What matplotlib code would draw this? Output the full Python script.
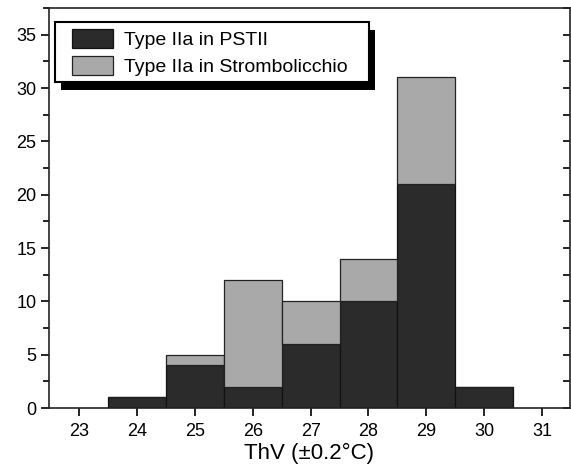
import matplotlib.pyplot as plt
from matplotlib.patches import Rectangle
from matplotlib.ticker import MultipleLocator

plt.rcParams['font.family'] = ['Liberation Sans', 'DejaVu Sans']

# histogram bins (ThV, deg C)
temps = [24, 25, 26, 27, 28, 29, 30]
# counts per bin
pstii = [1, 4, 2, 6, 10, 21, 2]
strombolicchio = [0, 1, 10, 4, 4, 10, 0]

dark = '#2b2b2b'
light = '#a9a9a9'

fig = plt.figure(figsize=(5.71, 4.73), dpi=100)
ax = fig.add_axes([0.0858, 0.1374, 0.9122, 0.8456])

ax.bar(temps, pstii, width=1.0, color=dark, edgecolor='#111111', linewidth=0.9,
       label='Type IIa in PSTII')
ax.bar(temps, strombolicchio, width=1.0, bottom=pstii, color=light, edgecolor='#222222',
       linewidth=0.9, label='Type IIa in Strombolicchio')

ax.set_xlim(22.48, 31.48)
ax.set_ylim(0, 37.5)
ax.set_xticks(range(23, 32))
ax.yaxis.set_major_locator(MultipleLocator(5))
ax.yaxis.set_minor_locator(MultipleLocator(2.5))
ax.set_yticks([0, 5, 10, 15, 20, 25, 30, 35])

for s in ax.spines.values():
    s.set_linewidth(1.2)
    s.set_color('#222222')

ax.tick_params(axis='x', direction='out', length=6, width=1.2, labelsize=13, top=False, pad=5)
ax.tick_params(axis='y', which='major', direction='out', length=6, width=1.2, labelsize=13,
               right=True, pad=3)
ax.tick_params(axis='y', which='minor', direction='out', length=4, width=1.2, right=True)
ax.tick_params(axis='y', which='both', labelright=False)
# right-side ticks point inward
for t in ax.yaxis.get_major_ticks() + ax.yaxis.get_minor_ticks():
    t.tick2line.set_marker(0)
    t.tick2line.set_markersize(5)

ax.set_xlabel('ThV (\u00b10.2\u00b0C)', fontsize=16, labelpad=2)

# legend without frame, box + shadow drawn by hand (wider side padding than mpl allows)
leg = ax.legend(loc='upper left', bbox_to_anchor=(0.0441, 0.948), fontsize=14,
                frameon=False, handlelength=2.1, handleheight=1.12,
                borderpad=0, labelspacing=0.38, handletextpad=0.57, borderaxespad=0)
leg.set_zorder(6)
fig.canvas.draw()
bb = leg.get_window_extent().transformed(ax.transAxes.inverted())
px = 1.0 / (ax.bbox.width)
py = 1.0 / (ax.bbox.height)
x0, y0 = bb.x0 - 17 * px, bb.y0 - 6 * py
w, h = bb.width + 38 * px, bb.height + 13 * py
ax.add_patch(Rectangle((x0 + 6 * px, y0 - 8 * py), w, h, transform=ax.transAxes,
                       facecolor='black', edgecolor='none', zorder=4, clip_on=False))
ax.add_patch(Rectangle((x0, y0), w, h, transform=ax.transAxes, facecolor='white',
                       edgecolor='black', linewidth=1.5, zorder=5, clip_on=False))

plt.savefig('out.png', dpi=100)
